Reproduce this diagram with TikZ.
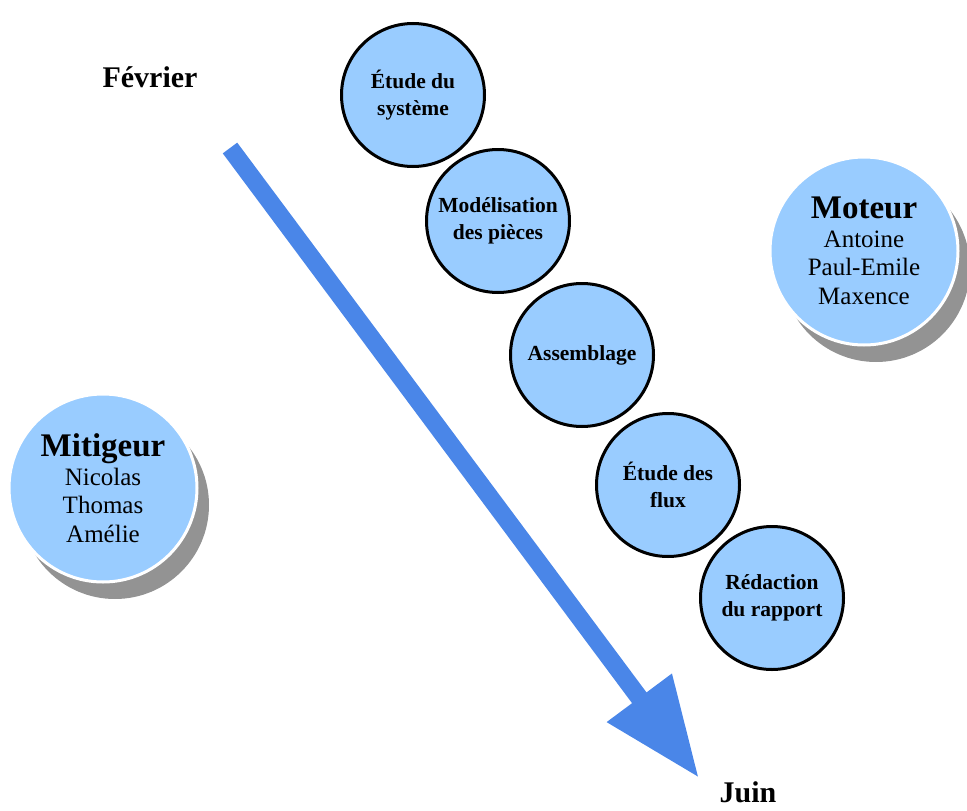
\documentclass[tikz,border=0pt]{standalone}
\usepackage{fontspec}
\setmainfont{Liberation Serif}
\usetikzlibrary{
arrows.meta,
positioning,
shadows
}
\definecolor{bulle}{RGB}{153,204,255}
\definecolor{fleche}{RGB}{74,134,232}
\tikzset{>=latex}

\begin{document}
\begin{tikzpicture}[x=1pt, y=-1pt, node distance=1cm,
	etape/.style={draw, circle, line width=3pt, fill=bulle, minimum size=143pt, inner sep=0pt, align=center, font=\bfseries\fontsize{21.5}{26.5}\selectfont},
	equipe/.style={circle, draw=white, line width=3pt, fill=bulle, minimum size=188pt, inner sep=0pt, align=center, font=\fontsize{25}{28.5}\selectfont, drop shadow={shadow xshift=12pt, shadow yshift=-17pt, fill=gray, opacity=0.85}},
	date/.style={font=\bfseries\fontsize{30}{32}\selectfont}]
	\useasboundingbox (0,0) rectangle (967,811);
	\node[date] (fevrier) at (150,77) {Février};
	\node[date] (juin) at (748,792) {Juin};
	\coordinate (debut) at (230,148);
	\coordinate (fin) at (699,778);
	\draw[line width=18pt, fleche, -{Triangle[length=100pt,width=76pt]}] (debut) -- (fin);
	
	\node[etape] (etude) at (413,95) {Étude du\\système};
	\node[etape, on grid, below right=126pt and 85pt of etude] (modelisation) {Modélisation\\des pièces};
	\node[etape, on grid, below right=134pt and 84pt of modelisation] (assemblage) {Assemblage};
	\node[etape, on grid, below right=130pt and 86pt of assemblage] (flux) {Étude des\\flux};
	\node[etape, on grid, below right=113pt and 104pt of flux] (redaction) {Rédaction\\du rapport};
	
	\node[equipe] (moteur) at (864,251) {{\bfseries\fontsize{33}{36}\selectfont Moteur}\\Antoine\\Paul-Emile\\Maxence};
	\node[equipe] (mitigeur) at (103,488) {{\bfseries\fontsize{33}{36}\selectfont Mitigeur}\\Nicolas\\Thomas\\Amélie};
\end{tikzpicture}
\end{document}
